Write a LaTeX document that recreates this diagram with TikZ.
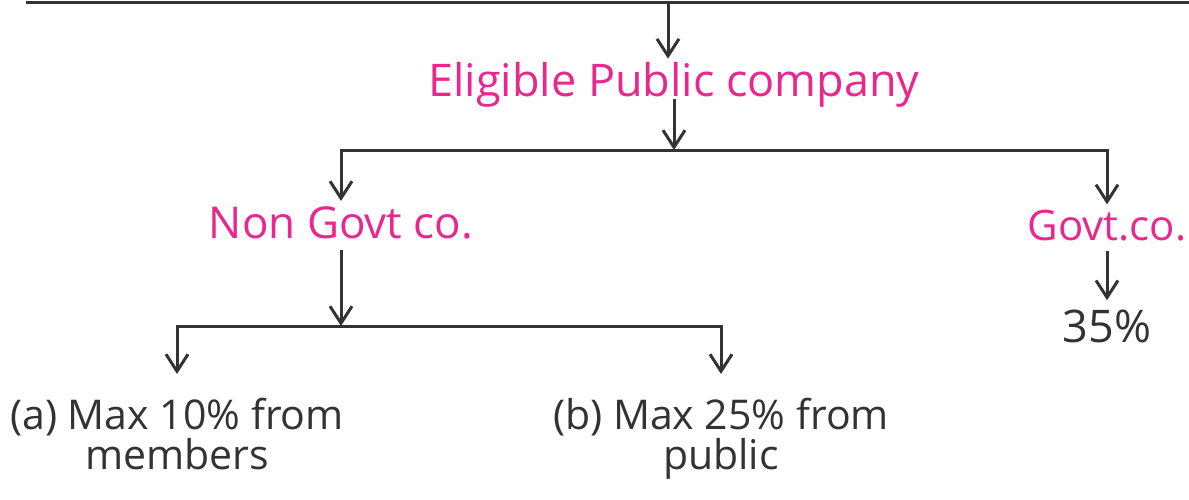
\documentclass[tikz,border=0pt]{standalone}
\usepackage{fontspec}
\setmainfont{Open Sans}
\usetikzlibrary{arrows.meta}
\definecolor{headpink}{HTML}{E8288C}
\definecolor{inkgray}{HTML}{333333}

\tikzset{
  link/.style={draw=inkgray, line width=3pt},
  linkarrow/.style={link, -{Straight Barb[length=17pt,width=22pt]}},
  pinklabel/.style={text=headpink, inner sep=3pt},
  graylabel/.style={text=inkgray, inner sep=3pt, align=center}
}

\begin{document}
\begin{tikzpicture}[x=1pt, y=-1pt]
    \useasboundingbox (0,0) rectangle (1189,499);

    % Labels
    \node[pinklabel, font=\fontsize{45}{54}\selectfont, anchor=base] (elig) at (674,96) {Eligible Public company};
    \node[pinklabel, font=\fontsize{44}{52}\selectfont, anchor=base] (nongovt) at (341,238) {Non Govt co.};
    \node[pinklabel, font=\fontsize{42}{50}\selectfont, anchor=base] (govt) at (1107,240) {Govt.co.};
    \node[graylabel, font=\fontsize{45}{54}\selectfont, anchor=base] (pct) at (1107,342) {35\%};
    \node[graylabel, font=\fontsize{41}{40}\selectfont, anchor=north, inner sep=0pt] (opta) at (177,398) {(a) Max 10\% from\\members};
    \node[graylabel, font=\fontsize{41}{40}\selectfont, anchor=north, inner sep=0pt] (optb) at (721,398) {(b) Max 25\% from\\public};

    % Branch points
    \coordinate (topL) at (26,2.5);
    \coordinate (topR) at (1189,2.5);
    \coordinate (topdrop) at (668,2.5);
    \coordinate (br1) at (674,150);
    \coordinate (br2) at (341,326);

    % Top rail and first arrow
    \draw[link] (topL) -- (topR);
    \draw[linkarrow] (topdrop) -- (topdrop |- elig.north);

    % Eligible company split
    \draw[linkarrow] ([yshift=-3pt]elig.base) -- (br1);
    \draw[linkarrow] (br1) -| ([yshift=2pt]nongovt.north);
    \draw[linkarrow] (br1) -| ([yshift=2pt]govt.north);

    % Govt branch
    \draw[linkarrow] ([yshift=-7pt]govt.south) -- ([yshift=6pt]pct.north);

    % Non Govt branch
    \draw[linkarrow] ([yshift=-8pt]nongovt.south) -- (br2);
    \draw[linkarrow] (br2) -| ([yshift=24pt]opta.north);
    \draw[linkarrow] (br2) -| ([yshift=24pt]optb.north);
\end{tikzpicture}
\end{document}
